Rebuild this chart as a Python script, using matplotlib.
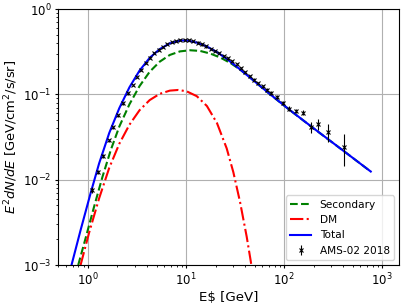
import matplotlib
matplotlib.use('Agg')
import matplotlib.pyplot as plt

# model curves (E in GeV, E^2 dN/dE)
E_sec = [0.795, 0.946, 1.153, 1.405, 1.713, 2.087, 2.647, 3.356, 4.256, 5.40,
         6.84, 8.67, 11.0, 13.94, 17.67, 22.4, 28.4, 35.6, 45.0, 53.5, 71.9,
         115, 199, 436, 767]
y_sec = [1.0e-3, 2.07e-3, 4.81e-3, 0.01081, 0.0225, 0.0420, 0.0765, 0.1250,
         0.1840, 0.2420, 0.2900, 0.3190, 0.3290, 0.3230, 0.3010, 0.2700, 0.2330,
         0.1955, 0.1580, 0.1330, 0.1003, 0.0652, 0.0402, 0.0204, 0.01245]

E_dm = [0.840, 1.024, 1.298, 1.646, 2.087, 2.647, 3.356, 4.256, 5.40, 6.84,
        8.34, 10.16, 12.88, 16.33, 20.7, 26.0, 30.4, 35.6, 41.6, 45.7, 50.0]
y_dm = [1.0e-3, 2.37e-3, 6.04e-3, 0.01374, 0.0264, 0.0441, 0.0652, 0.0857,
        0.1016, 0.1107, 0.1127, 0.1086, 0.0953, 0.0731, 0.0461, 0.0233, 0.01225,
        5.47e-3, 2.15e-3, 1.12e-3, 5.7e-4]

E_tot = [0.679, 0.840, 1.065, 1.298, 1.646, 2.087, 2.647, 3.356, 4.256, 5.40,
         6.84, 8.67, 10.16, 12.88, 16.33, 20.70, 26.25, 33.28, 42.2, 53.5, 71.9,
         115, 199, 436, 767]
y_tot = [1.0e-3, 2.56e-3, 7.0e-3, 0.0155, 0.0352, 0.0690, 0.1210, 0.1900,
         0.2679, 0.3398, 0.3963, 0.4276, 0.4285, 0.4046, 0.3639, 0.3126, 0.2588,
         0.2089, 0.1671, 0.1334, 0.1007, 0.0653, 0.0403, 0.0204, 0.01247]

# AMS-02 2018 points
E_ams = [1.091, 1.256, 1.423, 1.626, 1.812, 2.038, 2.276, 2.542, 2.845, 3.162,
         3.499, 3.870, 4.292, 4.748, 5.253, 5.825, 6.446, 7.131, 7.907, 8.747,
         9.676, 10.73, 11.87, 13.16, 14.57, 16.11, 17.82, 19.77, 21.87, 24.19,
         26.83, 29.68, 32.91, 36.41, 40.28, 44.67, 49.42, 54.67, 60.47, 67.07,
         74.20, 84.24, 97.0, 113.3, 132.6, 155.2, 187.3, 223.9, 279.2, 409.6]
y_ams = [0.00757, 0.0123, 0.0189, 0.0289, 0.0414, 0.0568, 0.0785, 0.103, 0.129,
         0.160, 0.193, 0.233, 0.270, 0.305, 0.335, 0.363, 0.389, 0.407, 0.422,
         0.430, 0.436, 0.433, 0.422, 0.405, 0.386, 0.365, 0.344, 0.322, 0.303,
         0.284, 0.264, 0.247, 0.227, 0.2035, 0.183, 0.164, 0.149, 0.1365, 0.125,
         0.114, 0.104, 0.0935, 0.080, 0.068, 0.0634, 0.0612, 0.0417, 0.0445,
         0.0365, 0.0243]
err_ams = [0.0006, 0.0007, 0.0009, 0.0013, 0.0017, 0.0023, 0.0027, 0.0036, 0.0039,
           0.0048, 0.0058, 0.007, 0.008, 0.009, 0.010, 0.011, 0.012, 0.012, 0.013,
           0.013, 0.013, 0.013, 0.013, 0.012, 0.012, 0.011, 0.010, 0.010, 0.009,
           0.009, 0.008, 0.008, 0.007, 0.0065, 0.006, 0.0055, 0.005, 0.005, 0.005,
           0.0045, 0.0045, 0.0045, 0.004, 0.0045, 0.0035, 0.004, 0.006, 0.0067,
           0.0088, 0.0097]

plt.rcParams['xtick.major.size'] = 2.5
plt.rcParams['ytick.major.size'] = 2.5
plt.rcParams['xtick.minor.size'] = 1.5
plt.rcParams['ytick.minor.size'] = 1.5
plt.rcParams['xtick.major.pad'] = 2.5
plt.rcParams['ytick.major.pad'] = 2.5

fig = plt.figure(figsize=(4.07, 3.05), dpi=100)
ax = fig.add_axes([0.1437, 0.131, 0.8374, 0.8393])

ax.plot(E_sec, y_sec, 'g--', lw=1.5, label='Secondary')
ax.plot(E_dm, y_dm, 'r-.', lw=1.5, label='DM')
ax.plot(E_tot, y_tot, 'b-', lw=1.5, label='Total')
ax.errorbar(E_ams, y_ams, yerr=err_ams, fmt='x', color='k', ms=3.4, mew=0.8,
            elinewidth=0.8, label='AMS-02 2018')

ax.set_xscale('log')
ax.set_yscale('log')
ax.set_xlim(0.5, 1500)
ax.set_ylim(1e-3, 1)
ax.grid(True)
ax.tick_params(labelsize=8.5)
ax.set_xlabel('E$ [GeV]', fontsize=9.6, labelpad=1.5)
ax.set_ylabel(r'$E^2dN/dE$ [GeV/cm$^2$/s/sr]', fontsize=9.4, labelpad=2)
ax.legend(loc='lower right', fontsize=7.6)

fig.savefig('out.png', dpi=100)
